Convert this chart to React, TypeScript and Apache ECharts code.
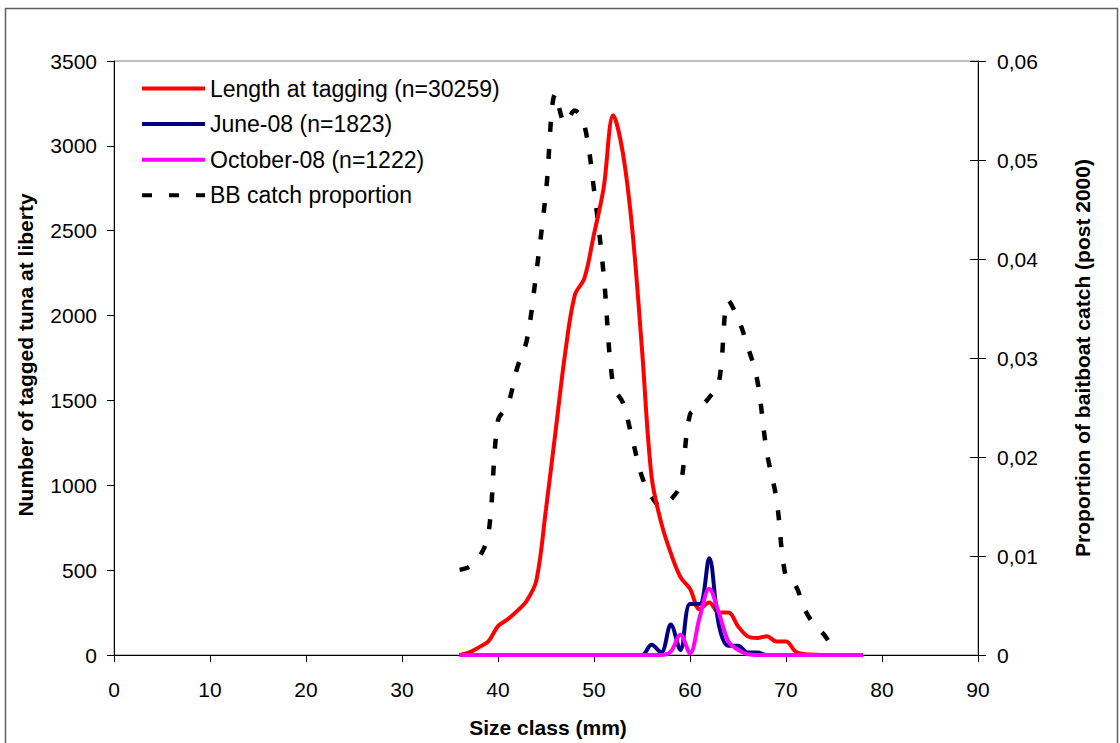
import React, { useEffect, useRef } from "react";
import * as echarts from "echarts";

const sizeClasses = [36, 37, 38, 39, 40, 41, 42, 43, 44, 45, 46, 47, 48, 49, 50, 51, 52, 53, 54, 55, 56, 57, 58, 59, 60, 61, 62, 63, 64, 65, 66, 67, 68, 69, 70, 71, 72, 73, 74, 75, 76, 77, 78];

const lengthAtTagging = [0, 15, 45, 80, 170, 210, 260, 320, 440, 860, 1320, 1780, 2120, 2220, 2480, 2750, 3180, 2960, 2500, 1800, 1050, 780, 600, 460, 390, 270, 310, 250, 250, 170, 110, 100, 110, 80, 80, 20, 5, 2, 0, 0, 0, 0, 0];

const june08 = [0, 0, 0, 0, 0, 0, 0, 0, 0, 0, 0, 0, 0, 0, 0, 0, 0, 0, 0, 0, 60, 15, 180, 30, 300, 300, 570, 180, 55, 55, 15, 15, 0, 0, 0, 0, 0, 0, 0, 0, 0, 0, 0];

const october08 = [0, 0, 0, 0, 0, 0, 0, 0, 0, 0, 0, 0, 0, 0, 0, 0, 0, 0, 0, 0, 0, 0, 20, 120, 10, 220, 390, 250, 80, 30, 5, 0, 0, 0, 0, 0, 0, 0, 0, 0, 0, 0, 0];

const bbSizeClasses = [36, 37, 38, 39, 40, 41, 42, 43, 44, 45, 46, 47, 48, 49, 50, 51, 52, 53, 54, 55, 56, 57, 58, 59, 60, 61, 62, 63, 64, 65, 66, 67, 68, 69, 70, 71, 72, 73, 74, 75];

const bbCatchProportion = [0.0086, 0.0089, 0.0098, 0.0122, 0.0237, 0.0252, 0.029, 0.0318, 0.0387, 0.0468, 0.0567, 0.0537, 0.055, 0.0535, 0.047, 0.0385, 0.0272, 0.0255, 0.0218, 0.018, 0.016, 0.015, 0.0157, 0.0172, 0.0243, 0.025, 0.026, 0.0275, 0.0358, 0.034, 0.0312, 0.0278, 0.0205, 0.0158, 0.0078, 0.007, 0.0045, 0.003, 0.002, 0.0005];

const seriesNames = [
  "Length at tagging (n=30259)",
  "June-08 (n=1823)",
  "October-08 (n=1222)",
  "BB catch proportion",
];

const FONT = "Liberation Sans, Arial, sans-serif";

const SOLID_ICON = "path://M0,0H63V4H0Z";
const DASH_ICON = "path://M0,0H10V4H0Z M27,0H37V4H27Z M54,0H63V4H54Z";

export default function App() {
  const ref = useRef<HTMLDivElement>(null);

  useEffect(() => {
    if (!ref.current) return;
    const chart = echarts.init(ref.current, null, { renderer: "svg" });
    const pair = (xs: number[], ys: number[]) => xs.map((x, i) => [x, ys[i]]);

    const rightFmt = (v: number) => (v === 0 ? "0" : v.toFixed(2).replace(".", ","));

    chart.setOption({
      animation: false,
      backgroundColor: "#ffffff",
      grid: {
        left: 114,
        right: 142,
        top: 61,
        bottom: 88,
        show: true,
        borderColor: "#808080",
        borderWidth: 1,
        backgroundColor: "transparent",
      },
      legend: {
        orient: "vertical",
        left: 137,
        top: 72,
        itemWidth: 63,
        itemHeight: 4,
        itemGap: 12.6,
        textStyle: { fontFamily: FONT, fontSize: 23, color: "#000", lineHeight: 23 },
        data: [
          { name: seriesNames[0], icon: SOLID_ICON, itemStyle: { color: "#ff0000" } },
          { name: seriesNames[1], icon: SOLID_ICON, itemStyle: { color: "#000080" } },
          { name: seriesNames[2], icon: SOLID_ICON, itemStyle: { color: "#ff00ff" } },
          { name: seriesNames[3], icon: DASH_ICON, itemStyle: { color: "#000000" } },
        ],
      },
      xAxis: {
        type: "value",
        min: 0,
        max: 90,
        interval: 10,
        axisLine: { show: true, onZero: false, lineStyle: { color: "#000", width: 1 } },
        axisTick: { show: true, length: 7, lineStyle: { color: "#000" } },
        axisLabel: { fontFamily: FONT, fontSize: 21, color: "#000", margin: 24 },
        splitLine: { show: false },
      },
      yAxis: [
        {
          type: "value",
          min: 0,
          max: 3500,
          interval: 500,
          position: "left",
          axisLine: { show: true, lineStyle: { color: "#000", width: 1 } },
          axisTick: { show: true, length: 7, lineStyle: { color: "#000" } },
          axisLabel: { fontFamily: FONT, fontSize: 21, color: "#000", margin: 17, formatter: (v: number) => String(v) },
          splitLine: { show: false },
        },
        {
          type: "value",
          min: 0,
          max: 0.06,
          interval: 0.01,
          position: "right",
          axisLine: { show: true, lineStyle: { color: "#000", width: 1 } },
          axisTick: { show: true, length: 8, lineStyle: { color: "#000" } },
          axisLabel: { fontFamily: FONT, fontSize: 21, color: "#000", margin: 19, formatter: rightFmt },
          splitLine: { show: false },
        },
        {
          type: "value",
          min: 0,
          max: 0.06,
          interval: 0.01,
          position: "right",
          axisLine: { show: false },
          axisTick: { show: true, inside: true, length: 8, lineStyle: { color: "#000" } },
          axisLabel: { show: false },
          splitLine: { show: false },
        },
      ],
      graphic: [
        {
          type: "rect",
          silent: true,
          shape: { x: 5.5, y: 8.5, width: 1112, height: 746 },
          style: { fill: "none", stroke: "#606060", lineWidth: 1.5 },
          z: 100,
        },
        {
          type: "text",
          x: 25,
          y: 355,
          rotation: Math.PI / 2,
          style: {
            text: "Number of tagged tuna at liberty",
            fontFamily: FONT,
            fontSize: 21,
            fontWeight: "bold",
            fill: "#000",
            align: "center",
            verticalAlign: "middle",
          },
        },
        {
          type: "text",
          x: 1082,
          y: 358,
          rotation: Math.PI / 2,
          style: {
            text: "Proportion of baitboat catch (post 2000)",
            fontFamily: FONT,
            fontSize: 21,
            fontWeight: "bold",
            fill: "#000",
            align: "center",
            verticalAlign: "middle",
          },
        },
        {
          type: "text",
          x: 548,
          y: 727,
          style: {
            text: "Size class (mm)",
            fontFamily: FONT,
            fontSize: 21,
            fontWeight: "bold",
            fill: "#000",
            align: "center",
            verticalAlign: "middle",
          },
        },
      ],
      series: [
        {
          name: seriesNames[0],
          type: "line",
          yAxisIndex: 0,
          data: pair(sizeClasses, lengthAtTagging),
          smooth: 0.35,
          symbol: "none",
          lineStyle: { color: "#ff0000", width: 4 },
          itemStyle: { color: "#ff0000" },
          z: 3,
        },
        {
          name: seriesNames[1],
          type: "line",
          yAxisIndex: 0,
          data: pair(sizeClasses, june08),
          smooth: 0.35,
          symbol: "none",
          lineStyle: { color: "#000080", width: 4 },
          itemStyle: { color: "#000080" },
          z: 4,
        },
        {
          name: seriesNames[2],
          type: "line",
          yAxisIndex: 0,
          data: pair(sizeClasses, october08),
          smooth: 0.35,
          symbol: "none",
          lineStyle: { color: "#ff00ff", width: 4 },
          itemStyle: { color: "#ff00ff" },
          z: 5,
        },
        {
          name: seriesNames[3],
          type: "line",
          yAxisIndex: 1,
          data: pair(bbSizeClasses, bbCatchProportion),
          smooth: 0.35,
          symbol: "none",
          lineStyle: { color: "#000000", width: 4.5, type: [10, 17], cap: "butt" },
          itemStyle: { color: "#000000" },
          z: 2,
        },
      ],
    });
    return () => chart.dispose();
  }, []);

  return (
    <div
      ref={ref}
      style={{ position: "absolute", left: 0, top: 0, width: 1120, height: 743, background: "#fff" }}
    />
  );
}
